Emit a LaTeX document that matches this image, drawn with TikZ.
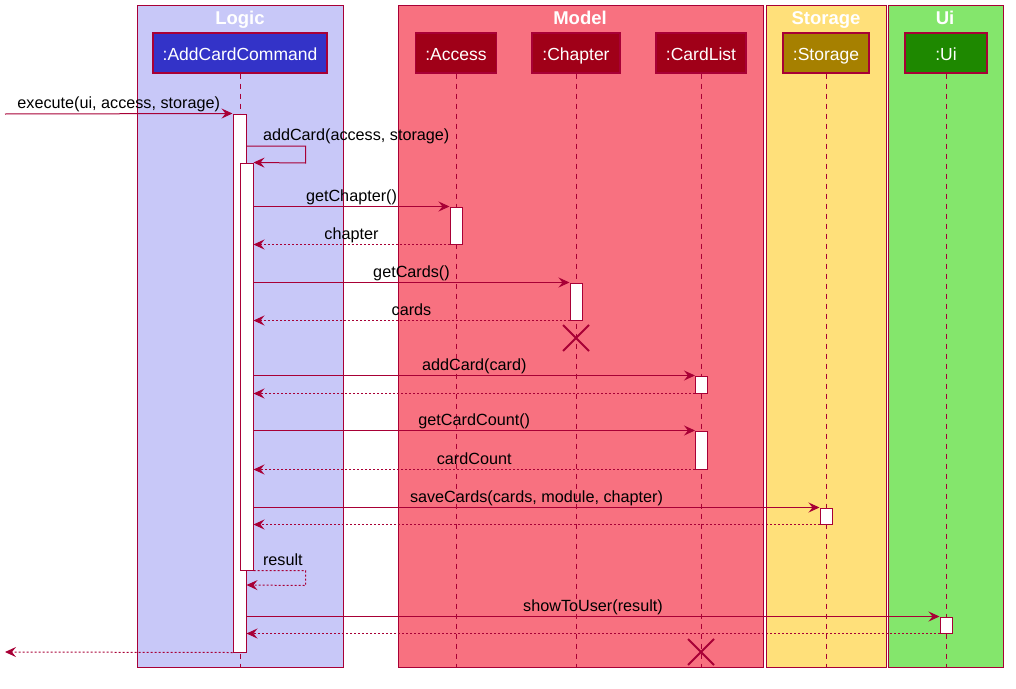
\documentclass[tikz,border=0pt]{standalone}
\usepackage{fontspec}
\setmainfont{Liberation Sans}
\usepackage{tikz}
\usetikzlibrary{arrows.meta}
\usetikzlibrary{shapes.misc}
\usepackage{xcolor}
\definecolor{ColLine}{RGB}{168,0,54}
\definecolor{ColLogic}{RGB}{200,200,248}
\definecolor{ColModel}{RGB}{248,113,128}
\definecolor{ColStorage}{RGB}{255,224,122}
\definecolor{ColUi}{RGB}{132,230,108}
\definecolor{ColCmd}{RGB}{51,51,200}
\definecolor{ColModelObj}{RGB}{160,0,24}
\definecolor{ColStorageObj}{RGB}{166,128,0}
\definecolor{ColUiObj}{RGB}{30,136,0}
\tikzstyle{GroupBox}=[draw=ColLine,line width=1pt]
\tikzstyle{GroupTitle}=[text=white,inner sep=0pt,anchor=base,font=\fontsize{18.5}{20}\selectfont\bfseries]
\tikzstyle{Participant}=[draw=ColLine,line width=1.2pt,text=white,minimum height=40pt,
inner sep=0pt,text height=15pt,text depth=1pt,font=\fontsize{17.5}{19}\selectfont]
\tikzstyle{LifeLine}=[ColLine,line width=1pt,dash pattern=on 5pt off 5pt]
\tikzstyle{Activation}=[draw=ColLine,fill=white,minimum width=12pt,inner sep=0pt,line width=1pt]
\tikzstyle{Msg}=[ColLine,line width=1pt,-{Stealth[length=11pt,width=10pt,inset=4pt]}]
\tikzstyle{Return}=[Msg,dash pattern=on 2pt off 2pt]
\tikzstyle{MsgLabel}=[text=black,inner sep=1pt,text height=12pt,text depth=4pt,
font=\fontsize{16.2}{18}\selectfont]
\tikzstyle{Destroy}=[cross out,draw=ColLine,line width=2pt,minimum size=24pt,inner sep=0pt]

\begin{document}
\begin{tikzpicture}[x=1pt,y=-1pt]
        \useasboundingbox(0,0)rectangle(1016,688);
        % boxes
        \draw[GroupBox,fill=ColLogic](137,5)rectangle(343,667);
        \draw[GroupBox,fill=ColModel](398,5)rectangle(763,667);
        \draw[GroupBox,fill=ColStorage](766,5)rectangle(886,667);
        \draw[GroupBox,fill=ColUi](888,5)rectangle(1003,667);
        \node[GroupTitle](tLogic)at(240,24){Logic};
        \node[GroupTitle](tModel)at(580,24){Model};
        \node[GroupTitle](tStorage)at(826,24){Storage};
        \node[GroupTitle](tUi)at(945,24){Ui};
        % participants
        \node[Participant,fill=ColCmd,minimum width=174pt](cmd)at(240,53){:AddCardCommand};
        \node[Participant,fill=ColModelObj,minimum width=81pt](access)at(456,53){:Access};
        \node[Participant,fill=ColModelObj,minimum width=88pt](chapter)at(576,53){:Chapter};
        \node[Participant,fill=ColModelObj,minimum width=90pt](cardlist)at(701,53){:CardList};
        \node[Participant,fill=ColStorageObj,minimum width=86pt](storage)at(826,53){:Storage};
        \node[Participant,fill=ColUiObj,minimum width=82pt](ui)at(946,53){:Ui};
        \draw[LifeLine](cmd.south)--(cmd.south|-0,667);
        \draw[LifeLine](access.south)--(access.south|-0,667);
        \draw[LifeLine](chapter.south)--(chapter.south|-0,667);
        \draw[LifeLine](cardlist.south)--(cardlist.south|-0,667);
        \draw[LifeLine](storage.south)--(storage.south|-0,667);
        \draw[LifeLine](ui.south)--(ui.south|-0,667);
        % activations
        \node[Activation,minimum width=13pt,minimum height=538pt](actA)at(239.5,383){};
        \node[Activation,minimum width=13pt,minimum height=407pt](actB)at(246.5,366.5){};
        \node[Activation,minimum height=37pt](actAcc)at(456,225.5){};
        \node[Activation,minimum height=37pt](actCh)at(576,301.5){};
        \node[Activation,minimum height=17pt](actCL1)at(701.5,384.5){};
        \node[Activation,minimum height=38pt](actCL2)at(701.5,450){};
        \node[Activation,minimum height=16pt](actSt)at(826,516){};
        \node[Activation,minimum height=16pt](actUi)at(946,625){};
        \node[Destroy](xCh)at(576,338){};
        \node[Destroy](xCL)at(701,652){};
        \coordinate(caller)at(5,114);
        \coordinate(back)at(5,652);
        % messages
        \draw[Msg](caller)--(actA.north west)node[midway,above,MsgLabel]{execute(ui, access, storage)};
        \draw[Msg](actA.east|-0,146)node[above right,xshift=15pt,MsgLabel]{addCard(access, storage)}
            --++(59,0)--++(0,17)--(actB.north east);
        \draw[Msg](actB.east|-actAcc.north)--(actAcc.north west)node[midway,above,MsgLabel]{getChapter()};
        \draw[Return](actAcc.south west)--(actB.east|-actAcc.south)node[midway,above,MsgLabel]{chapter};
        \draw[Msg](actB.east|-actCh.north)--(actCh.north west)node[midway,above,MsgLabel]{getCards()};
        \draw[Return](actCh.south west)--(actB.east|-actCh.south)node[midway,above,MsgLabel]{cards};
        \draw[Msg](actB.east|-actCL1.north)--(actCL1.north west)node[midway,above,MsgLabel]{addCard(card)};
        \draw[Return](actCL1.south west)--(actB.east|-actCL1.south);
        \draw[Msg](actB.east|-actCL2.north)--(actCL2.north west)node[midway,above,MsgLabel]{getCardCount()};
        \draw[Return](actCL2.south west)--(actB.east|-actCL2.south)node[midway,above,MsgLabel]{cardCount};
        \draw[Msg](actB.east|-actSt.north)--(actSt.north west)
            node[midway,above,MsgLabel]{saveCards(cards, module, chapter)};
        \draw[Return](actSt.south west)--(actB.east|-actSt.south);
        \draw[Return](actB.south east)node[above right,xshift=8pt,MsgLabel]{result}
            --++(52,0)--++(0,15)--(actA.east|-0,585);
        \draw[Msg](actA.east|-actUi.north)--(actUi.north west)node[midway,above,MsgLabel]{showToUser(result)};
        \draw[Return](actUi.south west)--(actA.east|-actUi.south);
        \draw[Return](actA.south west)--(back);
    \end{tikzpicture}
\end{document}
